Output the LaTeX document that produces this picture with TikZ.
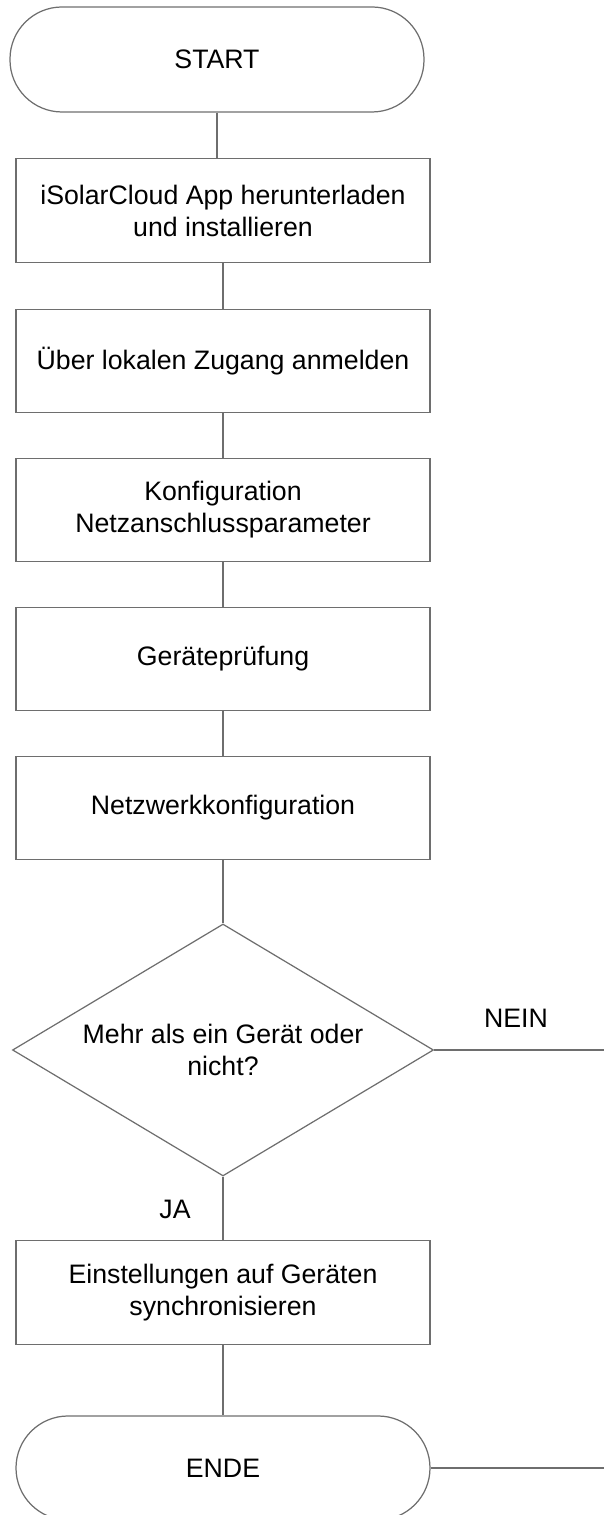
\documentclass[tikz,border=0pt]{standalone}
\usepackage{fontspec}
\setmainfont{Liberation Sans}
\usepackage{xcolor}
\definecolor{lngray}{RGB}{110,110,110}
\usetikzlibrary{shapes.geometric}

\begin{document}
\begin{tikzpicture}[font=\fontsize{15.2}{18.2}\selectfont,
  stepbox/.style={draw=lngray,line width=0.7pt,minimum width=8.28cm,minimum height=2.07cm,align=center},
  termbox/.style={stepbox,rounded corners=1.04cm,minimum height=2.1cm},
  decide/.style={draw=lngray,line width=0.7pt,diamond,aspect=1.67,inner sep=0pt,minimum width=8.42cm,minimum height=5.04cm,align=center},
  conn/.style={lngray,line width=0.7pt}]
  \useasboundingbox (0,0) rectangle (12.08,30.3);
  \node[termbox] (start) at (4.34,29.11) {START};
  \node[stepbox] (app) at (4.46,26.09) {iSolarCloud App herunterladen\\und installieren};
  \node[stepbox] (login) at (4.46,23.08) {Über lokalen Zugang anmelden};
  \node[stepbox] (grid) at (4.46,20.10) {Konfiguration\\Netzanschlussparameter};
  \node[stepbox] (check) at (4.46,17.12) {Geräteprüfung};
  \node[stepbox] (net) at (4.46,14.14) {Netzwerkkonfiguration};
  \node[decide] (multi) at (4.46,9.30) {Mehr als ein Gerät oder\\nicht?};
  \node[stepbox] (sync) at (4.46,4.45) {Einstellungen auf Geräten\\synchronisieren};
  \node[termbox,minimum height=2.08cm] (ende) at (4.46,0.94) {ENDE};
  % branch labels
  \node (nein) at (10.32,9.94) {NEIN};
  \node (ja) at (3.50,6.12) {JA};
  \coordinate (neinEnd) at (12.08,9.30);
  \coordinate (endeEnd) at (12.08,0.94);
  % Flow
  \draw[conn] (start.south) -- (start.south |- app.north);
  \draw[conn] (app) -- (login);
  \draw[conn] (login) -- (grid);
  \draw[conn] (grid) -- (check);
  \draw[conn] (check) -- (net);
  \draw[conn] (net) -- (multi);
  \draw[conn] (multi) -- (sync);
  \draw[conn] (sync) -- (ende);
  \draw[conn] (multi.east) -- (neinEnd);
  \draw[conn] (ende.east) -- (endeEnd);
\end{tikzpicture}
\end{document}
